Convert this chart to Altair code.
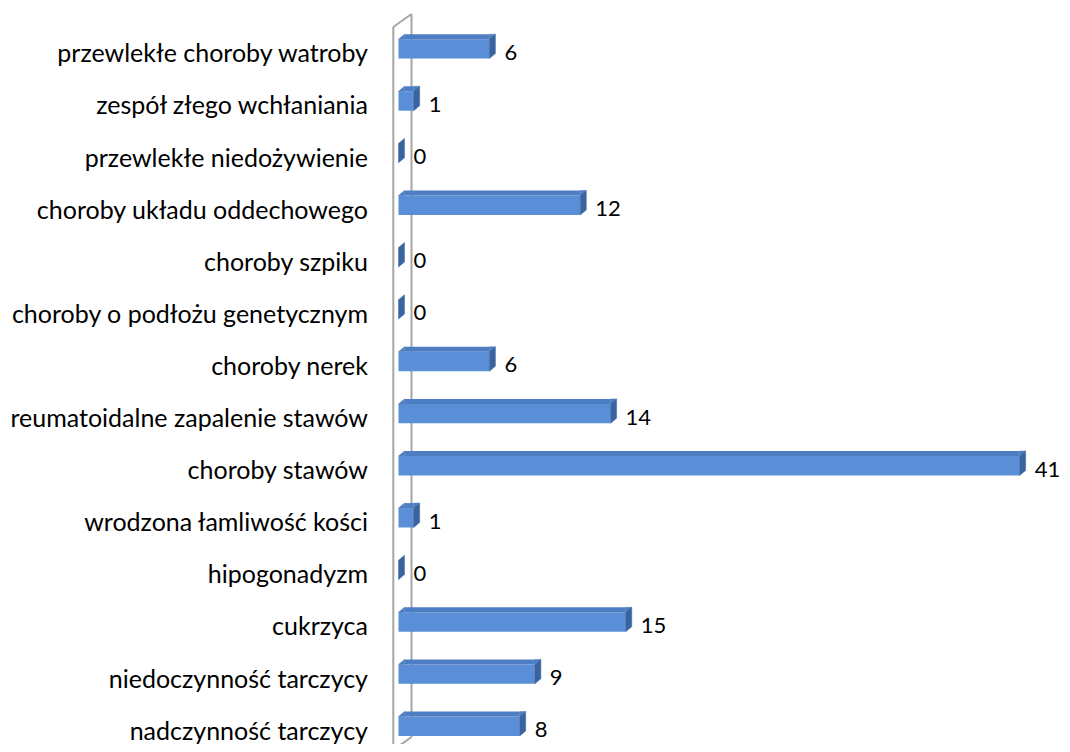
import altair as alt
import pandas as pd

categories = [
    "przewlekłe choroby watroby",
    "zespół złego wchłaniania",
    "przewlekłe niedożywienie",
    "choroby układu oddechowego",
    "choroby szpiku",
    "choroby o podłożu genetycznym",
    "choroby nerek",
    "reumatoidalne zapalenie stawów",
    "choroby stawów",
    "wrodzona łamliwość kości",
    "hipogonadyzm",
    "cukrzyca",
    "niedoczynność tarczycy",
    "nadczynność tarczycy",
]
values = [6, 1, 0, 12, 0, 0, 6, 14, 41, 1, 0, 15, 9, 8]

df = pd.DataFrame({"cat": categories, "v": values, "idx": list(range(len(categories)))})

FONT = "Lato"
FS = 25
FS_VAL = 22
FRONT = "#5A8ED6"
TOP = "#4D7DC2"
SIDE = "#3A64A0"
WALL = "#A6A6A6"

PXU = 15.15
W, H = 1054, 736
X0 = -390.5 / PXU
xs = alt.Scale(domain=[X0, X0 + W / PXU], nice=False, zero=False)
ys = alt.Scale(domain=[-0.785, -0.785 + H / 52.1], nice=False, zero=False, reverse=True)

base = alt.Chart(df)

def X(f="v"):
    return alt.X(f"{f}:Q", scale=xs, axis=None)

Y = alt.Y("idx:Q", scale=ys, axis=None)
Y2 = alt.Y2("idx:Q")

one = alt.Data(values=[{"a": 1}])

def wall(x1, x2, y1, y2):
    return alt.Chart(one).mark_rule(color=WALL, strokeWidth=2).encode(
        x=alt.X(datum=x1, type="quantitative", scale=xs, axis=None),
        x2=alt.datum(x2),
        y=alt.Y(datum=y1, type="quantitative", scale=ys, axis=None),
        y2=alt.datum(y2),
    )

wl, wr = -5.2 / PXU, 13.0 / PXU
walls = (
    wall(wl, wl, -0.42, 13.6)
    + wall(wl, wr, -0.42, -0.67)
    + wall(wr, wr, -0.67, 13.207)
    + wall(wr, wl, 13.207, 13.457)
)

pos = base.transform_filter("datum.v > 0")

front = pos.mark_rect(color=FRONT, yOffset=-9.7, y2Offset=9.7).encode(
    x=alt.X("zero:Q", scale=xs, axis=None), x2=alt.X2("v:Q"), y=Y, y2=Y2
).transform_calculate(zero="0")

top = pos.mark_rect(color=TOP, xOffset=6, yOffset=-14.7, y2Offset=-9.7).encode(
    x=alt.X("zero:Q", scale=xs, axis=None), x2=alt.X2("v:Q"), y=Y, y2=Y2
).transform_calculate(zero="0")

left_tri = pos.mark_point(
    shape="M0,-0.97 L0.6,-1.47 L0.6,-0.97 Z", size=400, filled=True,
    opacity=1, color=TOP, stroke=TOP, strokeWidth=0.5,
).encode(x=alt.X("zero:Q", scale=xs, axis=None), y=Y).transform_calculate(zero="0")

right_tri = pos.mark_point(
    shape="M0,-0.97 L0,-1.47 L0.6,-1.47 Z", size=400, filled=True,
    opacity=1, color=TOP, stroke=TOP, strokeWidth=0.5,
).encode(x=X(), y=Y)

side = base.mark_point(
    shape="M0,-0.97 L0.6,-1.47 L0.6,0.47 L0,0.97 Z", size=400, filled=True,
    opacity=1, color=SIDE, stroke=SIDE, strokeWidth=0.5,
).encode(x=X(), y=Y)

val_labels = base.mark_text(
    align="left", baseline="middle", dx=15, dy=4, font=FONT, fontSize=FS_VAL, color="#000000"
).encode(x=X(), y=Y, text="v:Q")

cat_labels = base.mark_text(
    align="right", baseline="middle", dx=-30.5, dy=5.5, font=FONT, fontSize=FS, color="#000000"
).encode(x=alt.X("zero:Q", scale=xs, axis=None), y=Y, text="cat:N").transform_calculate(zero="0")

chart = alt.layer(
    walls, front, top, left_tri, right_tri, side, val_labels, cat_labels
).properties(
    width=W, height=H, autosize=alt.AutoSizeParams(type="none"), padding=0
).configure_view(stroke=None)

chart.save("out.html", embed_options={"renderer": "svg", "actions": False})
